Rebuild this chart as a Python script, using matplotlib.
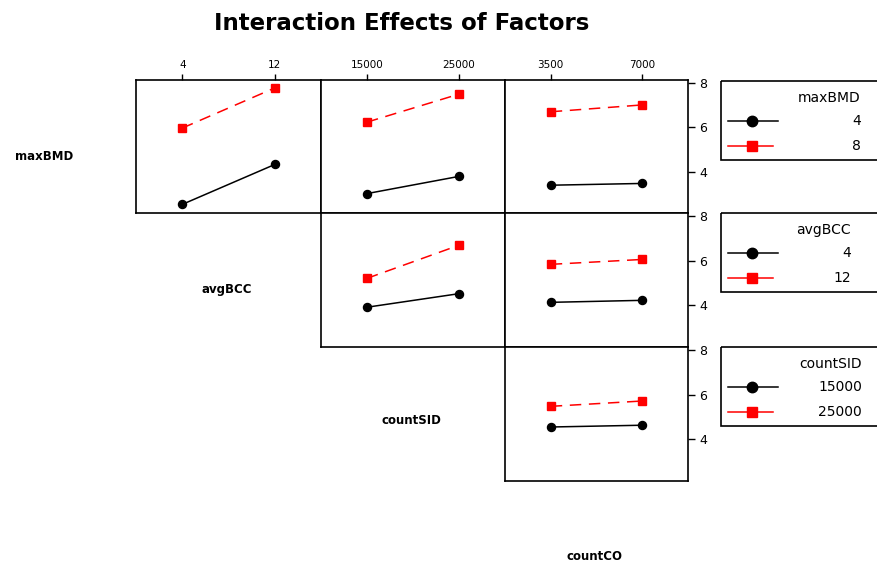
import matplotlib
matplotlib.use('Agg')
import matplotlib.pyplot as plt
from matplotlib.patches import Rectangle
from matplotlib.lines import Line2D

W, H = 878, 567

row_factors = ['maxBMD', 'avgBCC', 'countSID']
col_factors = ['avgBCC', 'countSID', 'countCO']
levels = {'maxBMD': [4, 8], 'avgBCC': [4, 12],
          'countSID': [15000, 25000], 'countCO': [3500, 7000]}

# mean response: [trace at low level], [trace at high level]
maxBMD_avgBCC = [[2.51, 4.32], [5.97, 7.79]]
maxBMD_countSID = [[3.00, 3.78], [6.24, 7.51]]
maxBMD_countCO = [[3.38, 3.46], [6.71, 7.02]]
avgBCC_countSID = [[3.91, 4.52], [5.21, 6.70]]
avgBCC_countCO = [[4.13, 4.22], [5.84, 6.06]]
countSID_countCO = [[4.55, 4.63], [5.48, 5.72]]

panels = {(0, 0): maxBMD_avgBCC, (0, 1): maxBMD_countSID, (0, 2): maxBMD_countCO,
          (1, 1): avgBCC_countSID, (1, 2): avgBCC_countCO,
          (2, 2): countSID_countCO}

yticks = [4, 6, 8]
ylim = (2.12, 8.15)

col_x = [136, 321, 505, 688]
row_y = [80, 213, 347, 481]


def px_rect(x0, y0, x1, y1):
    return [x0 / W, 1 - y1 / H, (x1 - x0) / W, (y1 - y0) / H]


fig = plt.figure(figsize=(W / 100, H / 100), dpi=100)

# overlay for legends and labels, in pixel units
over = fig.add_axes([0, 0, 1, 1], zorder=0)
over.set_xlim(0, W)
over.set_ylim(H, 0)
over.axis('off')

line_kw = [dict(color='black', ls='-', marker='o', ms=5.8),
           dict(color='red', ls=(0, (7.5, 5)), marker='s', ms=5.5)]

for (r, c), vals in panels.items():
    ax = fig.add_axes(px_rect(col_x[c], row_y[r], col_x[c + 1], row_y[r + 1]), zorder=2)
    xs = levels[col_factors[c]]
    span = xs[1] - xs[0]
    for k in range(2):
        ax.plot(xs, vals[k], lw=1.1, **line_kw[k])
    ax.set_xlim(xs[0] - 0.5 * span, xs[1] + 0.5 * span)
    ax.set_ylim(*ylim)
    for s in ax.spines.values():
        s.set_linewidth(1.2)
    ax.tick_params(left=False, bottom=False, labelleft=False, labelbottom=False)
    if r == 0:
        ax.xaxis.tick_top()
        ax.set_xticks(xs)
        ax.set_xticklabels([str(v) for v in xs])
        ax.tick_params(axis='x', top=True, labeltop=True, length=4, width=1,
                       pad=3, labelsize=7.5, bottom=False)
    else:
        ax.set_xticks([])
    if c == 2:
        ax.yaxis.tick_right()
        ax.set_yticks(yticks)
        ax.tick_params(axis='y', right=True, labelright=True, length=5, width=1,
                       pad=3, labelsize=9, left=False)
    else:
        ax.set_yticks([])

# legends
leg_top = [81, 213, 347]
text_right = [861, 851, 862]
for r, name in enumerate(row_factors):
    t = leg_top[r]
    over.add_patch(Rectangle((721, t), 200, 79, fill=False, lw=1.2, ec='black'))
    tr = text_right[r]
    over.text(tr, t + 17, name, ha='right', va='center', fontsize=10)
    lv = levels[name]
    ends = [778, 773]
    for k in range(2):
        yy = t + 40 + 24.5 * k
        over.add_line(Line2D([728, ends[k]], [yy, yy], color=line_kw[k]['color'], lw=1.1))
        over.plot([752.5], [yy], ls='none', marker=line_kw[k]['marker'],
                  color=line_kw[k]['color'], ms=7.5)
        over.text(tr, yy, str(lv[k]), ha='right', va='center', fontsize=10)

# diagonal factor names
diag = [('maxBMD', 44, 157), ('avgBCC', 227, 289), ('countSID', 411, 421), ('countCO', 595, 556)]
for name, x, y in diag:
    over.text(x, y, name, ha='center', va='center', fontsize=8.5, fontweight='bold')

over.text(402, 24, 'Interaction Effects of Factors', ha='center', va='center',
          fontsize=16.5, fontweight='bold')

fig.savefig('out.png', dpi=100)
